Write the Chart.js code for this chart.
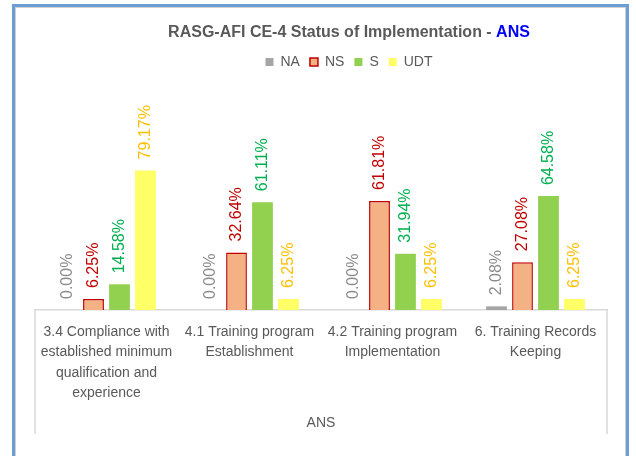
<!DOCTYPE html>
<html>
<head>
<meta charset="utf-8">
<script src="https://cdn.jsdelivr.net/npm/chart.js@4"></script>
<style>
  html, body { margin: 0; padding: 0; background: #fff; }
  #frame {
    position: absolute; left: 12px; top: 4px; width: 611px; height: 470px;
    border: 3px solid #6a9fd6; border-bottom: none;
    box-shadow: inset 1px 1px 0 #d0d0d0, inset -1px 0 0 #d0d0d0;
  }
  #chart { position: absolute; left: 0; top: 0; }
</style>
</head>
<body>
<div id="frame"></div>
<canvas id="chart" width="636" height="456"></canvas>
<script>
// chart data
const categories = [
    ["3.4 Compliance with", "established minimum", "qualification and", "experience"],
    ["4.1 Training program", "Establishment"],
    ["4.2 Training program", "Implementation"],
    ["6. Training Records", "Keeping"]
];
const seriesNames = ["NA", "NS", "S", "UDT"];
const naValues = [0, 0, 0, 2.08];
const nsValues = [6.25, 32.64, 61.81, 27.08];
const sValues = [14.58, 61.11, 31.94, 64.58];
const udtValues = [79.17, 6.25, 6.25, 6.25];
const titleText = "RASG-AFI CE-4 Status of Implementation - ";
const titleHighlight = "ANS";
const axisTitle = "ANS";

Chart.defaults.font.family = '"Liberation Sans", Arial, sans-serif';

// title in two colours
const twoColorTitle = {
    id: "twoColorTitle",
    afterDraw(chart) {
        const ctx = chart.ctx;
        ctx.save();
        ctx.font = 'bold 16px "Liberation Sans", Arial, sans-serif';
        ctx.textBaseline = "middle";
        ctx.textAlign = "left";
        const w1 = ctx.measureText(titleText).width;
        const w2 = ctx.measureText(titleHighlight).width;
        const x0 = 349 - (w1 + w2) / 2;
        ctx.fillStyle = "#595959";
        ctx.fillText(titleText, x0, 33);
        ctx.fillStyle = "#0000ff";
        ctx.fillText(titleHighlight, x0 + w1, 33);
        ctx.restore();
    }
};

// legend is centred on the original chart, a bit right of the plot
const legendShift = {
    id: "legendShift",
    afterLayout(chart) {
        chart.legend.left += 28;
        chart.legend.right += 28;
    }
};

// vertical value labels above each bar
const barLabels = {
    id: "barLabels",
    afterDatasetsDraw(chart) {
        const ctx = chart.ctx;
        chart.data.datasets.forEach((ds, i) => {
            chart.getDatasetMeta(i).data.forEach((bar, j) => {
                ctx.save();
                ctx.translate(bar.x, bar.y - 11);
                ctx.rotate(-Math.PI / 2);
                ctx.font = '16px "Liberation Sans", Arial, sans-serif';
                ctx.fillStyle = ds.labelColor;
                ctx.textAlign = "left";
                ctx.textBaseline = "middle";
                ctx.fillText(ds.data[j].toFixed(2) + "%", 0, 0);
                ctx.restore();
            });
        });
    }
};

// side lines of the category axis box
const axisBox = {
    id: "axisBox",
    afterDraw(chart) {
        const ctx = chart.ctx;
        const area = chart.chartArea;
        const xScale = chart.scales.x;
        ctx.save();
        ctx.strokeStyle = "#d9d9d9";
        ctx.lineWidth = 1.5;
        ctx.beginPath();
        ctx.moveTo(area.left, area.bottom);
        ctx.lineTo(area.left, xScale.bottom);
        ctx.moveTo(area.right, area.bottom);
        ctx.lineTo(area.right, xScale.bottom);
        ctx.stroke();
        ctx.restore();
    }
};

new Chart(document.getElementById("chart"), {
    type: "bar",
    data: {
        labels: categories,
        datasets: [
            { label: seriesNames[0], data: naValues, backgroundColor: "#a5a5a5", borderWidth: 0, labelColor: "#8c8c8c" },
            { label: seriesNames[1], data: nsValues, backgroundColor: "#f4b183", borderColor: "#c00000", borderWidth: 1.5, labelColor: "#c00000" },
            { label: seriesNames[2], data: sValues, backgroundColor: "#92d050", borderWidth: 0, labelColor: "#00b050" },
            { label: seriesNames[3], data: udtValues, backgroundColor: "#ffff66", borderWidth: 0, labelColor: "#ffc000" }
        ]
    },
    options: {
        responsive: false,
        animation: false,
        categoryPercentage: 0.727,
        barPercentage: 0.8,
        layout: { padding: { top: 45, left: 35, right: 29, bottom: 22 } },
        plugins: {
            title: { display: false },
            tooltip: { enabled: false },
            legend: {
                position: "top",
                labels: {
                    boxWidth: 8,
                    boxHeight: 8,
                    padding: 10,
                    color: "#595959",
                    font: { size: 14 }
                }
            }
        },
        scales: {
            x: {
                grid: { display: false, drawTicks: false },
                border: { display: true, color: "#d9d9d9", width: 1.5 },
                ticks: {
                    color: "#595959",
                    font: { size: 14, lineHeight: 1.45 },
                    padding: 12,
                    maxRotation: 0,
                    autoSkip: false
                },
                title: {
                    display: true,
                    text: axisTitle,
                    color: "#595959",
                    font: { size: 14 },
                    padding: { top: 0, bottom: 2 }
                }
            },
            y: { display: false, min: 0, max: 131 }
        }
    },
    plugins: [twoColorTitle, legendShift, barLabels, axisBox]
});
</script>
</body>
</html>
